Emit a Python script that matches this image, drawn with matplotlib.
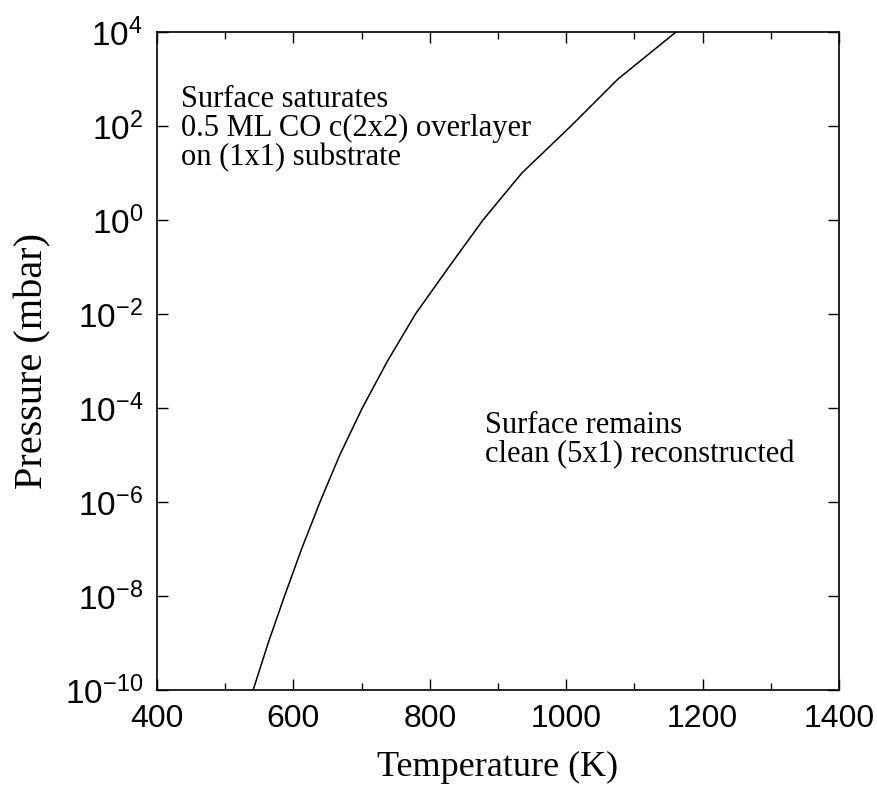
import numpy as np
import matplotlib.pyplot as plt
from matplotlib.ticker import FixedLocator, MultipleLocator

# coexistence line: temperature (K) at which each pressure decade is reached
log_pressure = [-10, -9, -8, -7, -6, -5, -4, -3, -2, -1, 0, 1, 2, 3, 4]
temperature = [541, 563, 587, 612, 639, 668, 701, 738, 779, 828, 878, 935, 1007, 1076, 1161]

ytick_exp = [-10, -8, -6, -4, -2, 0, 2, 4]
xticks = [400, 600, 800, 1000, 1200, 1400]

sans = ['Liberation Sans', 'DejaVu Sans']
serif = ['Liberation Serif', 'DejaVu Serif']
plt.rcParams['font.family'] = sans
plt.rcParams['mathtext.fontset'] = 'custom'
plt.rcParams['mathtext.rm'] = 'Liberation Sans'
plt.rcParams['mathtext.default'] = 'regular'

fig = plt.figure(figsize=(8.78, 8.01), dpi=100)
ax = fig.add_axes([157/878, 1 - 690/801, 682/878, 658/801])

pressure = [10.0**e for e in log_pressure]
ax.plot(temperature, pressure, color='black', linewidth=1.1)

ax.set_yscale('log')
ax.set_xlim(400, 1400)
ax.set_ylim(1e-10, 1e4)

ax.xaxis.set_major_locator(FixedLocator(xticks))
ax.xaxis.set_minor_locator(MultipleLocator(100))
ax.yaxis.set_major_locator(FixedLocator([10.0**e for e in ytick_exp]))
ax.yaxis.set_minor_locator(FixedLocator([]))
ax.set_yticklabels([f'$10^{{{e}}}$' for e in ytick_exp])
ax.set_xticklabels([str(t) for t in xticks])

ax.tick_params(which='both', direction='in', top=True, right=True, width=1)
ax.tick_params(axis='y', labelsize=24)
ax.tick_params(axis='x', labelsize=23)
ax.tick_params(which='major', length=8, pad=10)
ax.tick_params(which='minor', length=5)
for s in ax.spines.values():
    s.set_linewidth(1.2)

ax.set_xlabel('Temperature (K)', family=serif, fontsize=26, labelpad=12)
ax.set_ylabel('Pressure (mbar)', family=serif, fontsize=29, labelpad=10)

ax.text(0.035, 0.92, 'Surface saturates\n0.5 ML CO c(2x2) overlayer\non (1x1) substrate',
        transform=ax.transAxes, family=serif, fontsize=22, va='top', ha='left',
        linespacing=1.0)
ax.text(0.481, 0.424, 'Surface remains\nclean (5x1) reconstructed',
        transform=ax.transAxes, family=serif, fontsize=22, va='top', ha='left',
        linespacing=1.0)

fig.savefig('out.png', dpi=100)
